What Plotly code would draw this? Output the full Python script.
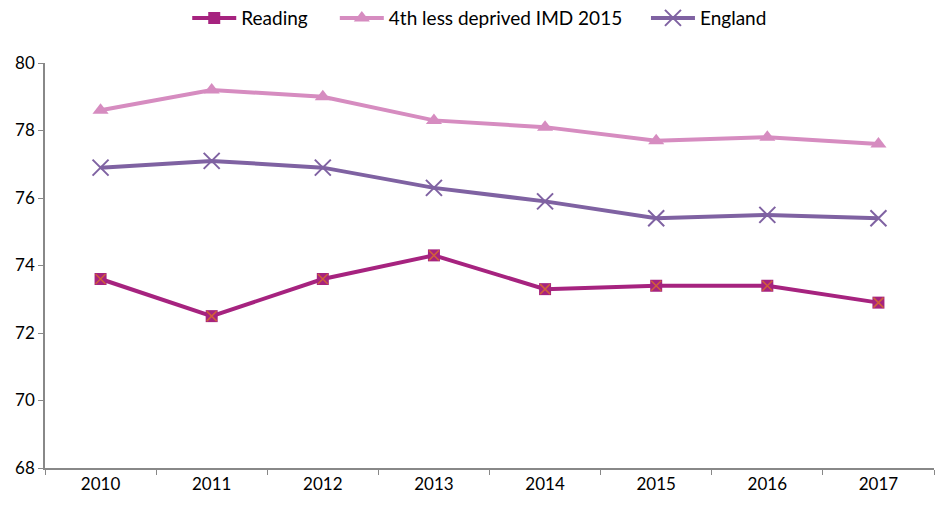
import plotly.graph_objects as go

years = ["2010", "2011", "2012", "2013", "2014", "2015", "2016", "2017"]
reading = [73.6, 72.5, 73.6, 74.3, 73.3, 73.4, 73.4, 72.9]
less_deprived = [78.6, 79.2, 79.0, 78.3, 78.1, 77.7, 77.8, 77.6]
england = [76.9, 77.1, 76.9, 76.3, 75.9, 75.4, 75.5, 75.4]

c_read = "#A6237F"
c_less = "#D68CC0"
c_eng = "#7F62A2"

fig = go.Figure()
fig.add_trace(go.Scatter(x=years, y=reading, name="Reading", mode="lines+markers", legend="legend",
                         line=dict(color=c_read, width=4),
                         marker=dict(symbol="square", size=12, color=c_read)))
fig.add_trace(go.Scatter(x=years, y=reading, name="Reading", mode="markers", showlegend=False,
                         hoverinfo="skip",
                         marker=dict(symbol="x-thin", size=10, line=dict(color="#D0603A", width=1.5))))
fig.add_trace(go.Scatter(x=years, y=less_deprived, name="4th less deprived IMD 2015", mode="lines+markers",
                         legend="legend2",
                         line=dict(color=c_less, width=4),
                         marker=dict(symbol="triangle-up", size=14, color=c_less)))
fig.add_trace(go.Scatter(x=years, y=england, name="England", mode="lines+markers", legend="legend3",
                         line=dict(color=c_eng, width=4),
                         marker=dict(symbol="x-thin", size=16, line=dict(color=c_eng, width=2))))

leg_common = dict(orientation="h", xanchor="left", y=1.111, yanchor="middle", yref="paper",
                  font=dict(size=19), bgcolor="rgba(0,0,0,0)", itemwidth=44)

fig.update_layout(
    width=944, height=508,
    margin=dict(l=45, r=10, t=63, b=40, autoexpand=False),
    paper_bgcolor="white", plot_bgcolor="white",
    font=dict(family="Lato, Liberation Sans, sans-serif", size=17, color="black"),
    legend=dict(x=0.160, **leg_common),
    legend2=dict(x=0.326, **leg_common),
    legend3=dict(x=0.676, **leg_common),
    showlegend=True,
)
fig.update_xaxes(type="category", range=[-0.5, 7.5], showline=True, linecolor="#888888", linewidth=1.5,
                 ticks="outside", tickson="boundaries", ticklen=5, tickcolor="#888888",
                 showgrid=False, zeroline=False, automargin=False)
fig.update_yaxes(range=[68, 80], dtick=2, showline=True, linecolor="#888888", linewidth=1.5,
                 ticks="outside", ticklen=5, tickcolor="#888888", showgrid=False, zeroline=False,
                 automargin=False)

fig.write_html("out.html", config={"displayModeBar": False},
               post_script="document.body.style.margin='0';")
